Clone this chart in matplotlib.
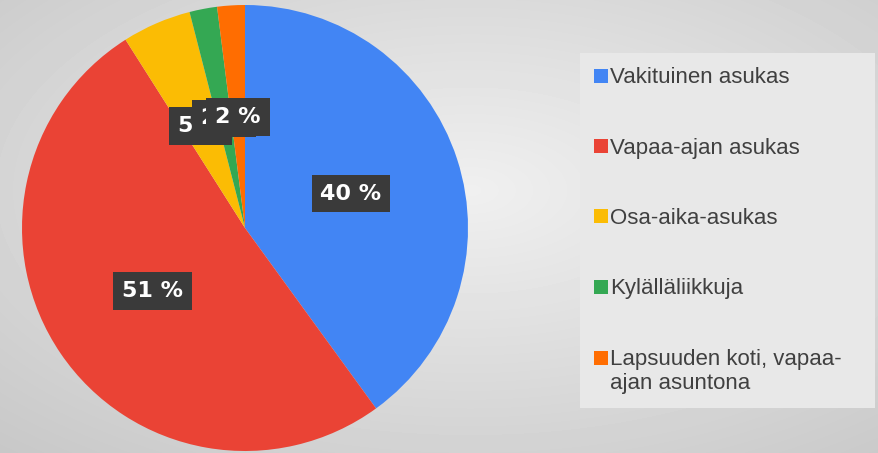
import numpy as np
import matplotlib
matplotlib.use("Agg")
import matplotlib.pyplot as plt
from matplotlib.patches import Patch

plt.rcParams['font.family'] = ['Liberation Sans', 'DejaVu Sans']

categories = ["Vakituinen asukas", "Vapaa-ajan asukas", "Osa-aika-asukas",
              "Kylälläliikkuja", "Lapsuuden koti, vapaa-\najan asuntona"]
shares = [40, 51, 5, 2, 2]
colors = ["#4285F4", "#EA4335", "#FBBC04", "#34A853", "#FF6D01"]

fig = plt.figure(figsize=(8.79, 4.53), dpi=100)

# gray radial backdrop
bg = fig.add_axes([0, 0, 1, 1])
yy, xx = np.mgrid[0:453, 0:879]
d = np.sqrt(((xx - 470) / 879.0) ** 2 + ((yy - 190) / 453.0) ** 2)
shade = 0.94 - 0.2 * d
bg.imshow(shade, cmap="gray", vmin=0, vmax=1, aspect="auto", extent=[0, 1, 0, 1])
bg.axis("off")

ax = fig.add_axes([22 / 879, 2 / 453, 446 / 879, 446 / 453])
wedges, texts = ax.pie(shares, colors=colors, startangle=90, counterclock=False,
                       labels=[f"{v} %" for v in shares], labeldistance=0.5,
                       wedgeprops=dict(linewidth=0))
for t in texts:
    t.set_ha("center")
    t.set_va("center")
    t.set_color("white")
    t.set_family("DejaVu Sans")
    t.set_fontweight("bold")
    t.set_fontsize(16)
    t.set_bbox(dict(boxstyle="square,pad=0.4", facecolor="#3a3a3a", edgecolor="none"))
ax.set_xlim(-1, 1)
ax.set_ylim(-1, 1)
ax.set_aspect("equal")
ax.axis("off")

handles = [Patch(facecolor=c, edgecolor="none") for c in colors]
leg = fig.legend(handles, categories, loc="upper left",
                 bbox_to_anchor=(580 / 879, 1 - 53 / 453, 295 / 879, 0.0001),
                 mode="expand",
                 fontsize=16, frameon=True, fancybox=False,
                 borderpad=0.65, handlelength=0.6, handleheight=0.6,
                 handletextpad=0.12, labelspacing=2.22, borderaxespad=0)
leg.get_frame().set_facecolor("#e8e8e8")
leg.get_frame().set_edgecolor("none")
leg.get_frame().set_alpha(1)
for t in leg.get_texts():
    t.set_color("#404040")
# marker of the two-line entry sits by its first line
last = leg.legend_handles[-1]
last.set_y(last.get_y() + 9.5)

fig.savefig("out.png", dpi=100)
